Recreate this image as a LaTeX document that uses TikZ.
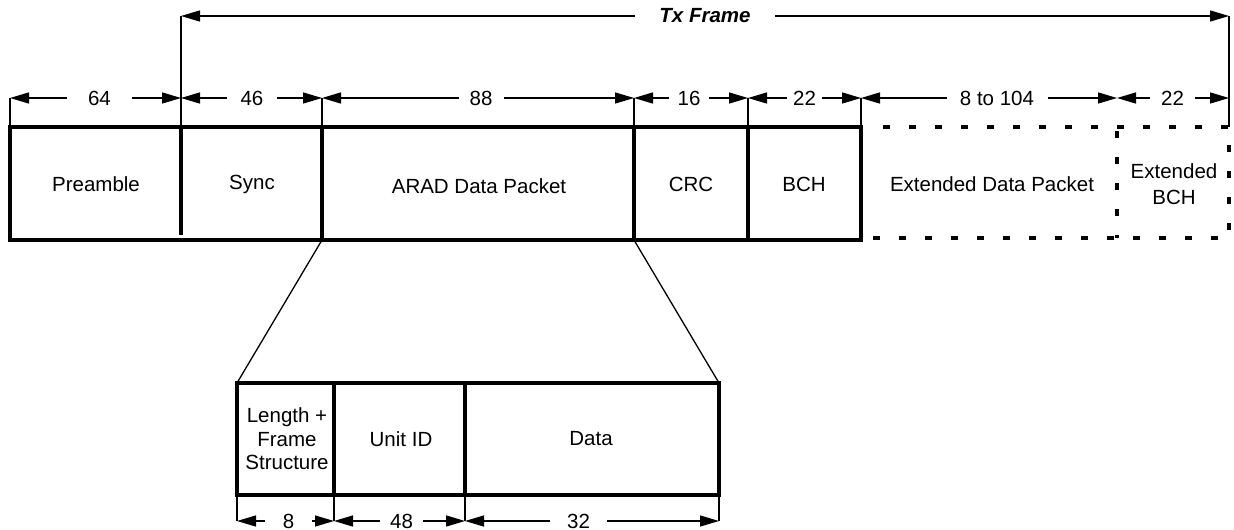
\documentclass[tikz,border=0pt]{standalone}
\usepackage{fontspec}
\setmainfont{Liberation Sans}
\usetikzlibrary{arrows.meta}
\begin{document}
\begin{tikzpicture}[x=1pt,y=-1pt,
  thickbox/.style={line width=4pt, line join=miter},
  dotbox/.style={line width=4.5pt, dash pattern=on 7pt off 19pt},
  thinline/.style={line width=1.3pt},
  dimline/.style={thinline, {Triangle[length=19pt,width=11pt]}-{Triangle[length=19pt,width=11pt]}},
  dimlabel/.style={fill=white, inner sep=0pt, minimum height=15pt, font=\fontsize{20.5}{24}\selectfont},
  celltext/.style={font=\fontsize{20.5}{24}\selectfont, align=center, inner sep=0pt}]
\useasboundingbox (0,0) rectangle (1234,530);

% ---------- coordinates of the Tx frame ----------
\coordinate (t0) at (10,127);   \coordinate (b0) at (10,240);
\coordinate (t1) at (181,127);  \coordinate (b1) at (181,235);
\coordinate (t2) at (322,127);  \coordinate (b2) at (322,240);
\coordinate (t3) at (634,127);  \coordinate (b3) at (634,240);
\coordinate (t4) at (748,127);  \coordinate (b4) at (748,240);
\coordinate (t5) at (861,127);  \coordinate (b5) at (861,240);
\coordinate (t6) at (1117,127); \coordinate (b6) at (1117,238);
\coordinate (t7) at (1229,127); \coordinate (b7) at (1229,238);
\coordinate (b5d) at (861,238);

\coordinate (d0) at (10,98);
\coordinate (d1) at (181,98);
\coordinate (d2) at (322,98);
\coordinate (d3) at (634,98);
\coordinate (d4) at (748,98);
\coordinate (d5) at (861,98);
\coordinate (d6) at (1117,98);
\coordinate (d7) at (1229,98);
\coordinate (f1) at (181,16);
\coordinate (f7) at (1229,16);

% ---------- solid boxes ----------
\draw[thickbox] (t0) rectangle (b5);
\draw[thickbox] (t1) -- (b1);
\draw[thickbox] (t2) -- (b2);
\draw[thickbox] (t3) -- (b3);
\draw[thickbox] (t4) -- (b4);

% ---------- dotted boxes ----------
\draw[dotbox] (t5) ++(22,0) -- (t7) -- (b7) -- (b5d);
\draw[dotbox] (t6) ++(0,4) -- (b6);

% ---------- cell texts ----------
\node[celltext] (pre) at (96,184) {Preamble};
\node[celltext] (syn) at (252,184) {Sync};
\node[celltext] (arad) at (479,186) {ARAD Data Packet};
\node[celltext] (crc) at (691,184) {CRC};
\node[celltext] (bch) at (804,184) {BCH};
\node[celltext] (edp) at (992,184) {Extended Data Packet};
\node[celltext, font=\fontsize{20.5}{26}\selectfont] (ebch) at (1174,184) {Extended\\BCH};

% ---------- ticks ----------
\draw[thinline] (d0) -- (t0);
\draw[thinline] (f1) -- (b1);
\draw[thinline] (d2) -- (t2);
\draw[thinline] (d3) -- (t3);
\draw[thinline] (d4) -- (t4);
\draw[thinline] (d5) -- (t5);
\draw[thinline] (f7) -- (t7);

% ---------- dimension lines ----------
\draw[dimline] (f1) -- (f7);
\node[dimlabel, minimum width=140pt, font=\fontsize{20.5}{24}\selectfont\bfseries\itshape] (txf) at (705,16) {Tx Frame};

\draw[dimline] (d0) -- (d1);
\node[dimlabel, minimum width=65pt] (l64) at (99.5,98) {64};
\draw[dimline] (d1) -- (d2);
\node[dimlabel, minimum width=50pt] (l46) at (252,98) {46};
\draw[dimline] (d2) -- (d3);
\node[dimlabel, minimum width=45pt] (l88) at (481,98) {88};
\draw[dimline] (d3) -- (d4);
\node[dimlabel, minimum width=40pt] (l16) at (689,98) {16};
\draw[dimline] (d4) -- (d5);
\node[dimlabel, minimum width=35pt] (l22a) at (804.5,98) {22};
\draw[dimline] (d5) -- (d6);
\node[dimlabel, minimum width=101pt] (l8104) at (997,98) {8 to 104};
\draw[dimline] (d6) -- (d7);
\node[dimlabel, minimum width=45pt] (l22b) at (1172.5,98) {22};

% ---------- lower (expanded) packet ----------
\coordinate (u0) at (237,383); \coordinate (v0) at (237,495);
\coordinate (u1) at (334,383); \coordinate (v1) at (334,495);
\coordinate (u2) at (465,383); \coordinate (v2) at (465,495);
\coordinate (u3) at (719,383); \coordinate (v3) at (719,495);
\coordinate (w0) at (237,521);
\coordinate (w1) at (334,521);
\coordinate (w2) at (465,521);
\coordinate (w3) at (719,521);

\draw[thinline] (b2) -- (u0);
\draw[thinline] (b3) -- (u3);

\draw[thickbox] (u0) rectangle (v3);
\draw[thickbox] (u1) -- (v1);
\draw[thickbox] (u2) -- (v2);

\node[celltext, font=\fontsize{20.5}{23.5}\selectfont] (lfs) at (287,439) {Length +\\Frame\\Structure};
\node[celltext] (uid) at (401,439) {Unit ID};
\node[celltext] (dat) at (591,439) {Data};

\draw[thinline] (v0) -- (w0);
\draw[thinline] (v1) -- (w1);
\draw[thinline] (v2) -- (w2);
\draw[thinline] (v3) -- (w3);

\draw[dimline] (w0) -- (w1);
\node[dimlabel, minimum width=47pt] (l8) at (288.5,521) {8};
\draw[dimline] (w1) -- (w2);
\node[dimlabel, minimum width=43pt] (l48) at (401.5,521) {48};
\draw[dimline] (w2) -- (w3);
\node[dimlabel, minimum width=57pt] (l32) at (578.5,521) {32};
\end{tikzpicture}
\end{document}
